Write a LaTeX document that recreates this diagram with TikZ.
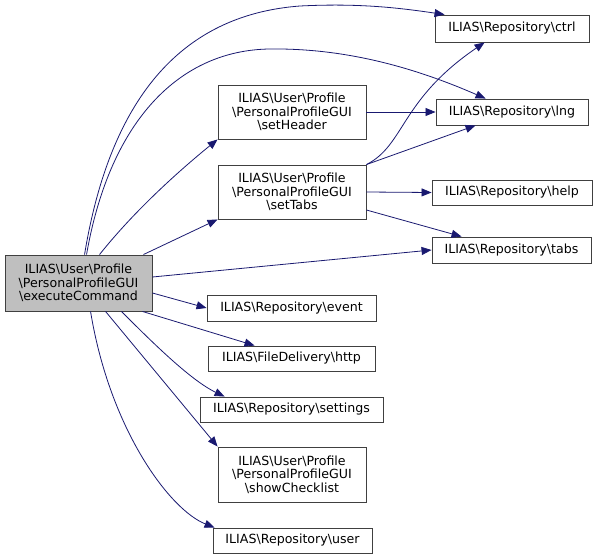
\documentclass[tikz,border=0pt]{standalone}
\usepackage{fontspec}
\setmainfont{DejaVu Sans}
\usetikzlibrary{arrows.meta}
\definecolor{edgecol}{HTML}{191970}
\definecolor{grayfill}{HTML}{BFBFBF}
\begin{document}
\begin{tikzpicture}[x=1pt,y=-1pt,
  box/.style={draw=black!75,line width=0.9pt,fill=white,inner sep=0pt,align=center,font=\fontsize{12.6}{13.6}\selectfont},
  edge/.style={draw=edgecol,line width=0.8pt,-{Triangle[length=10pt,width=8pt]}}]
\useasboundingbox (0,0) rectangle (597,559);
\node[box,fill=grayfill,minimum width=147pt,minimum height=56pt] (exec) at (78.5,283) {ILIAS\textbackslash User\textbackslash Profile\\\textbackslash PersonalProfileGUI\\\textbackslash executeCommand};
\node[box,minimum width=148pt,minimum height=54pt] (hdr) at (292,112) {ILIAS\textbackslash User\textbackslash Profile\\\textbackslash PersonalProfileGUI\\\textbackslash setHeader};
\node[box,minimum width=148pt,minimum height=54pt] (tabsf) at (292,192) {ILIAS\textbackslash User\textbackslash Profile\\\textbackslash PersonalProfileGUI\\\textbackslash setTabs};
\node[box,minimum width=154pt,minimum height=27pt] (ctrl) at (512,28.5) {ILIAS\textbackslash Repository\textbackslash ctrl};
\node[box,minimum width=152pt,minimum height=26pt] (lng) at (512,112) {ILIAS\textbackslash Repository\textbackslash lng};
\node[box,minimum width=160pt,minimum height=25pt] (help) at (512,192.5) {ILIAS\textbackslash Repository\textbackslash help};
\node[box,minimum width=159pt,minimum height=26pt] (tabs) at (511.5,250) {ILIAS\textbackslash Repository\textbackslash tabs};
\node[box,minimum width=169pt,minimum height=26pt] (event) at (291.5,308) {ILIAS\textbackslash Repository\textbackslash event};
\node[box,minimum width=167pt,minimum height=25pt] (http) at (291.5,358.5) {ILIAS\textbackslash FileDelivery\textbackslash http};
\node[box,minimum width=183pt,minimum height=25pt] (settings) at (291.5,409.5) {ILIAS\textbackslash Repository\textbackslash settings};
\node[box,minimum width=148pt,minimum height=55pt] (check) at (292,474.5) {ILIAS\textbackslash User\textbackslash Profile\\\textbackslash PersonalProfileGUI\\\textbackslash showChecklist};
\node[box,minimum width=159pt,minimum height=25pt] (user) at (292.5,540.5) {ILIAS\textbackslash Repository\textbackslash user};
% edges from executeCommand
\path[edge] (exec.north west) ++(80,0) .. controls (110,100) and (180,15) .. (300,6) .. controls (360,3) and (400,8) .. ([xshift=10pt]ctrl.north west);
\path[edge] (exec.north west) ++(82,0) .. controls (110,120) and (180,50) .. (270,49) .. controls (350,48) and (420,70) .. ([xshift=50pt]lng.north west);
\path[edge] (exec.north west) ++(95,0) .. controls (135,210) and (180,170) .. (hdr.south west);
\path[edge] (exec.north east) ++(-9,0) -- (tabsf.south west);
\path[edge] (exec.east) ++(0,-6) -- (tabs.west);
\path[edge] (exec.east) ++(0,10) -- (event.west);
\path[edge] (exec.south east) ++(-10,0) -- ([xshift=47pt]http.north west);
\path[edge] (exec.south east) ++(-31,0) .. controls (150,340) and (190,380) .. ([xshift=25pt]settings.north west);
\path[edge] (exec.south west) ++(101,0) -- (check.north west);
\path[edge] (exec.south west) ++(86,0) .. controls (110,430) and (170,510) .. ([xshift=2pt]user.north west);
% edges from setHeader / setTabs
\path[edge] (hdr.east) -- (lng.west);
\path[edge] (tabsf.north east) .. controls (405,145) and (400,100) .. ([xshift=50pt]ctrl.south west);
\path[edge] (tabsf.north east) -- ([xshift=40pt]lng.south west);
\path[edge] (tabsf.east) -- (help.west);
\path[edge] (tabsf.east) ++(0,18) -- ([xshift=30pt]tabs.north west);
\end{tikzpicture}
\end{document}
